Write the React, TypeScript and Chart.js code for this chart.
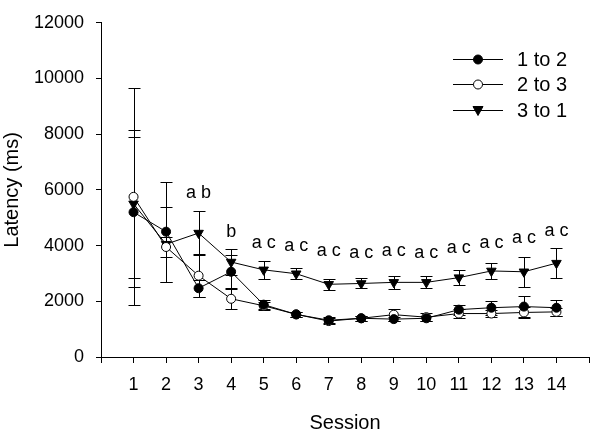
import React, { useEffect, useRef } from 'react';
import { Chart, registerables } from 'chart.js';

Chart.register(...registerables);

const FONT = '"Liberation Sans", Arial, Helvetica, sans-serif';

const sessions = [1, 2, 3, 4, 5, 6, 7, 8, 9, 10, 11, 12, 13, 14];
const xTickLabels = ['1', '2', '3', '4', '5', '6', '7', '8', '9', '10', '11', '12', '13', '14'];

const mean12 = [5200, 4500, 2470, 3060, 1880, 1530, 1320, 1390, 1360, 1390, 1700, 1770, 1810, 1770];
const err12 = [2700, 1800, 300, 600, 170, 80, 100, 80, 80, 100, 180, 250, 380, 280];

const mean23 = [5750, 3950, 2920, 2090, 1840, 1530, 1290, 1390, 1520, 1430, 1560, 1560, 1600, 1620];
const err23 = [3900, 350, 770, 350, 150, 80, 100, 80, 220, 150, 150, 130, 200, 150];

const mean31 = [5500, 4050, 4450, 3410, 3130, 2990, 2610, 2640, 2680, 2680, 2850, 3090, 3060, 3370];
const err31 = [2650, 1350, 800, 450, 330, 200, 200, 180, 230, 220, 280, 300, 530, 530];

const sigLabels = ['', '', 'a b', 'b', 'a c', 'a c', 'a c', 'a c', 'a c', 'a c', 'a c', 'a c', 'a c', 'a c'];
const sigY = [0, 0, 5880, 4490, 4100, 4000, 3790, 3720, 3790, 3720, 3900, 4100, 4280, 4520];

const seriesNames = ['1 to 2', '2 to 3', '3 to 1'];

const seriesMeans = [mean12, mean23, mean31];
const seriesErrs = [err12, err23, err31];

const errorBarPlugin = {
  id: 'errorBars',
  beforeDatasetsDraw(chart: any) {
    const { ctx, scales } = chart;
    const x = scales.x;
    const y = scales.y;
    ctx.save();
    ctx.strokeStyle = '#000';
    ctx.lineWidth = 1;
    seriesMeans.forEach((vals, si) => {
      const errs = seriesErrs[si];
      vals.forEach((v, i) => {
        const px = Math.round(x.getPixelForValue(sessions[i])) + 0.5;
        const top = Math.round(y.getPixelForValue(v + errs[i])) + 0.5;
        const bot = Math.round(y.getPixelForValue(Math.max(0, v - errs[i]))) + 0.5;
        ctx.beginPath();
        ctx.moveTo(px, top);
        ctx.lineTo(px, bot);
        ctx.moveTo(px - 6, top);
        ctx.lineTo(px + 6, top);
        ctx.moveTo(px - 6, bot);
        ctx.lineTo(px + 6, bot);
        ctx.stroke();
      });
    });
    ctx.restore();
  },
};

const sigPlugin = {
  id: 'sigLetters',
  afterDatasetsDraw(chart: any) {
    const { ctx, scales } = chart;
    const x = scales.x;
    const y = scales.y;
    ctx.save();
    ctx.fillStyle = '#000';
    ctx.font = `18px ${FONT}`;
    ctx.textAlign = 'center';
    ctx.textBaseline = 'middle';
    sigLabels.forEach((t, i) => {
      if (!t) return;
      ctx.fillText(t, x.getPixelForValue(sessions[i]), y.getPixelForValue(sigY[i]));
    });
    ctx.restore();
  },
};

function drawMarker(ctx: CanvasRenderingContext2D, kind: number, cx: number, cy: number) {
  ctx.beginPath();
  if (kind === 0 || kind === 1) {
    ctx.arc(cx, cy, 4.5, 0, Math.PI * 2);
    ctx.fillStyle = kind === 0 ? '#000' : '#fff';
    ctx.fill();
    ctx.stroke();
  } else {
    ctx.moveTo(cx - 5, cy - 4);
    ctx.lineTo(cx + 5, cy - 4);
    ctx.lineTo(cx, cy + 5);
    ctx.closePath();
    ctx.fillStyle = '#000';
    ctx.fill();
    ctx.stroke();
  }
}

const legendPlugin = {
  id: 'customLegend',
  afterDraw(chart: any) {
    const { ctx } = chart;
    const rows = [59, 84, 110];
    ctx.save();
    ctx.strokeStyle = '#000';
    ctx.lineWidth = 1;
    ctx.font = `20px ${FONT}`;
    ctx.textBaseline = 'middle';
    ctx.textAlign = 'left';
    seriesNames.forEach((name, i) => {
      const yy = rows[i] + 0.5;
      ctx.beginPath();
      ctx.moveTo(453, yy);
      ctx.lineTo(503, yy);
      ctx.stroke();
      drawMarker(ctx, i, 478, yy);
      ctx.fillStyle = '#000';
      ctx.fillText(name, 517, rows[i] + 1);
    });
    ctx.restore();
  },
};

export default function App() {
  const ref = useRef<HTMLCanvasElement>(null);
  useEffect(() => {
    document.body.style.margin = '0';
    const canvas = ref.current!;
    const mk = (i: number, style: string, fill: string, radius: number, rot: number) => ({
      label: seriesNames[i],
      data: sessions.map((s, k) => ({ x: s, y: seriesMeans[i][k] })),
      borderColor: '#000',
      borderWidth: 1,
      pointStyle: style,
      pointRadius: radius,
      pointRotation: rot,
      pointBackgroundColor: fill,
      pointBorderColor: '#000',
      pointBorderWidth: 1,
      fill: false,
      tension: 0,
    });
    const chart = new Chart(canvas, {
      type: 'line',
      data: {
        datasets: [
          mk(0, 'circle', '#000', 4.5, 0),
          mk(1, 'circle', '#fff', 4.5, 0),
          mk(2, 'triangle', '#000', 5.5, 180),
        ] as any,
      },
      options: {
        animation: false,
        responsive: false,
        layout: { padding: { top: 12, right: 5, left: 0, bottom: 0 } },
        plugins: { legend: { display: false }, tooltip: { enabled: false } },
        scales: {
          x: {
            type: 'linear',
            min: 0,
            max: 15,
            afterFit: (s: any) => { s.height = 78; },
            afterBuildTicks: (s: any) => {
              s.ticks = Array.from({ length: 16 }, (_, v) => ({ value: v }));
            },
            ticks: {
              stepSize: 1,
              autoSkip: false,
              maxRotation: 0,
              color: '#000',
              padding: 11,
              font: { family: FONT, size: 18 },
              callback: (v: any) => (v >= 1 && v <= 14 ? xTickLabels[v - 1] : ''),
            },
            grid: { drawOnChartArea: false, drawTicks: true, tickLength: 6, color: '#000' },
            border: { display: true, color: '#000', width: 1 },
            title: {
              display: true,
              text: 'Session',
              color: '#000',
              font: { family: FONT, size: 20 },
              padding: { top: 0, bottom: 0 },
            },
          },
          y: {
            type: 'linear',
            min: 0,
            max: 12000,
            afterFit: (s: any) => { s.width = 101; },
            ticks: {
              stepSize: 2000,
              color: '#000',
              padding: 12,
              font: { family: FONT, size: 18 },
              callback: (v: any) => String(v),
            },
            grid: { drawOnChartArea: false, drawTicks: true, tickLength: 5, color: '#000' },
            border: { display: true, color: '#000', width: 1 },
            title: {
              display: true,
              text: 'Latency (ms)',
              color: '#000',
              font: { family: FONT, size: 20 },
              padding: { top: 0, bottom: 0 },
            },
          },
        },
      } as any,
      plugins: [errorBarPlugin, sigPlugin, legendPlugin],
    });
    return () => chart.destroy();
  }, []);
  return (
    <div style={{ position: 'absolute', left: 0, top: 0, width: 600, height: 435, background: '#fff' }}>
      <canvas ref={ref} width={600} height={435} style={{ width: 600, height: 435 }} />
    </div>
  );
}
